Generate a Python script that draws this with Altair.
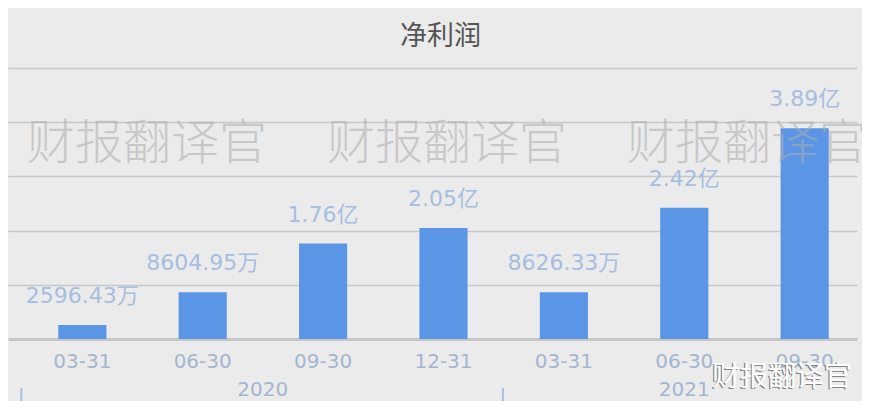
import altair as alt
import pandas as pd

# ---- data ----
periods = ["2020-03-31", "2020-06-30", "2020-09-30", "2020-12-31",
           "2021-03-31", "2021-06-30", "2021-09-30"]
profit_yi = [0.259643, 0.860495, 1.76, 2.05, 0.862633, 2.42, 3.89]
value_labels = ["2596.43万", "8604.95万", "1.76亿", "2.05亿",
                "8626.33万", "2.42亿", "3.89亿"]
year_names = ["2020", "2021"]
year_first_period = ["2020-03-31", "2021-03-31"]
watermark_text = "财报翻译官"
chart_title = "净利润"

df = pd.DataFrame({"period": periods, "profit": profit_yi, "label": value_labels})
df_sep = pd.DataFrame({"period": year_first_period})
df_y2020 = pd.DataFrame({"period": ["2020-06-30"], "year": [year_names[0]]})
df_y2021 = pd.DataFrame({"period": ["2021-06-30"], "year": [year_names[1]]})
df_wm = pd.DataFrame({"t": [watermark_text]})

W, H = 849, 271
NUM_FONT = "DejaVu Sans, Noto Sans CJK SC"
CJK_FONT = "Noto Sans CJK SC"

x_enc = alt.X(
    "period:N", sort=periods,
    scale=alt.Scale(domain=periods, paddingInner=0.6, paddingOuter=0.326, align=0.64),
    axis=alt.Axis(title=None, labelExpr="substring(datum.value, 5)", ticks=False,
                  domainColor="#c6c6c6", domainWidth=3, labelColor="#a3b6cf",
                  labelFontSize=20, labelFont=NUM_FONT, labelPadding=12, labelAngle=0,
                  grid=False),
)
y_enc = alt.Y(
    "profit:Q",
    scale=alt.Scale(domain=[0, 5], nice=False),
    axis=alt.Axis(title=None, labels=False, ticks=False, domain=False,
                  values=[1, 2, 3, 4, 5], gridColor="#c8c8c8", gridWidth=1.5),
)

bars = alt.Chart(df).mark_bar(color="#5b96e6").encode(x=x_enc, y=y_enc)

labels = alt.Chart(df).mark_text(
    baseline="alphabetic", dy=-22, fontSize=22, font=NUM_FONT, color="#a6bee0"
).encode(x=x_enc, y=y_enc, text="label:N")

wm_layers = []
for px in (139, 439, 739):
    wm_layers.append(
        alt.Chart(df_wm).mark_text(
            fontSize=48, font=CJK_FONT, fontWeight=300, color="#adadad", opacity=0.55,
            baseline="middle", align="center"
        ).encode(x=alt.value(px), y=alt.value(77), text="t:N")
    )

year1 = alt.Chart(df_y2020).mark_text(
    dx=60, baseline="alphabetic", fontSize=20, font=NUM_FONT, color="#a3b6cf"
).encode(x=x_enc, y=alt.value(H + 57), text="year:N")
year2 = alt.Chart(df_y2021).mark_text(
    baseline="alphabetic", fontSize=20, font=NUM_FONT, color="#a3b6cf"
).encode(x=x_enc, y=alt.value(H + 57), text="year:N")

seps = alt.Chart(df_sep).mark_rule(color="#a8c0e0", strokeWidth=2, xOffset=-61).encode(
    x=x_enc, y=alt.value(H + 49), y2=alt.value(H + 75)
)

wm_shadow = alt.Chart(df_wm).mark_text(
    fontSize=28, font=CJK_FONT, color="#858585", dx=-1.3, dy=1.3,
    baseline="middle", align="center"
).encode(x=alt.value(774), y=alt.value(H + 39), text="t:N")
wm_front = alt.Chart(df_wm).mark_text(
    fontSize=28, font=CJK_FONT, color="#ffffff",
    baseline="middle", align="center"
).encode(x=alt.value(774), y=alt.value(H + 39), text="t:N")

chart = alt.layer(bars, *wm_layers, labels, year1, year2, seps, wm_shadow, wm_front).properties(
    width=W, height=H,
    title=alt.TitleParams(chart_title, fontSize=27, font=CJK_FONT, color="#555555",
                          fontWeight="normal", offset=17, dx=8, anchor="middle"),
    autosize=alt.AutoSizeParams(type="none"),
    padding={"left": 0, "top": 60, "right": 5, "bottom": 62},
    background="#ebebeb",
).configure_view(stroke=None)

chart.save("out.html", embed_options={"renderer": "svg", "actions": False})
